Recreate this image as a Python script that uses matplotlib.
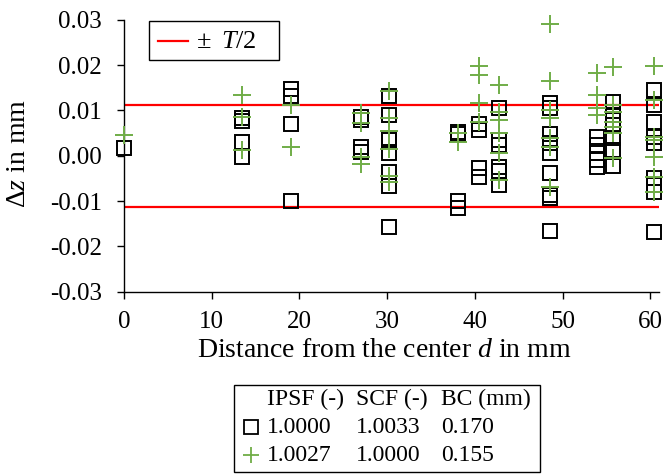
import numpy as np
import matplotlib
matplotlib.use("Agg")
import matplotlib.pyplot as plt
from matplotlib.lines import Line2D
from matplotlib.patches import Rectangle

plt.rcParams['font.family'] = ['Liberation Serif', 'DejaVu Serif']
plt.rcParams['mathtext.fontset'] = 'custom'
plt.rcParams['mathtext.rm'] = 'Liberation Serif'
plt.rcParams['mathtext.it'] = 'Liberation Serif:italic'
plt.rcParams['axes.unicode_minus'] = False

# ---- data (distance d in mm, deviation dz in mm) ----
half_tol = 0.0112   # T/2

sq_d = [0.0,
        13.4, 13.4, 13.4, 13.4,
        19.0, 19.0, 19.0, 19.0,
        27.0, 27.0, 27.0, 27.0,
        30.2, 30.2, 30.2, 30.2, 30.2, 30.2, 30.2, 30.2,
        38.1, 38.1, 38.1, 38.1,
        40.5, 40.5, 40.5, 40.5,
        42.7, 42.7, 42.7, 42.7, 42.7, 42.7,
        48.6, 48.6, 48.6, 48.6, 48.6, 48.6, 48.6, 48.6, 48.6,
        53.9, 53.9, 53.9, 53.9, 53.9,
        55.7, 55.7, 55.7, 55.7, 55.7, 55.7, 55.7,
        60.4, 60.4, 60.4, 60.4, 60.4, 60.4, 60.4, 60.4, 60.4]
sq_dz = [0.0018,
         0.0083, 0.0076, 0.0031, -0.0002,
         0.0147, 0.0132, 0.0069, -0.0099,
         0.0086, 0.0079, 0.0020, 0.0008,
         0.0131, 0.0090, 0.0039, 0.0034, 0.0006, -0.0036, -0.0067, -0.0157,
         0.0053, 0.0048, -0.0099, -0.0115,
         0.0070, 0.0057, -0.0028, -0.0046,
         0.0106, 0.0035, 0.0024, -0.0024, -0.0033, -0.0064,
         0.0116, 0.0105, 0.0048, 0.0029, 0.0007, -0.0039, -0.0087, -0.0094, -0.0165,
         0.0041, 0.0024, 0.0007, -0.0009, -0.0024,
         0.0119, 0.0090, 0.0079, 0.0068, 0.0039, 0.0013, -0.0023,
         0.0145, 0.0112, 0.0075, 0.0041, 0.0029, -0.0050, -0.0064, -0.0081, -0.0168]

pl_d = [0.0,
        13.4, 13.4, 13.4,
        19.0, 19.0,
        27.0, 27.0, 27.0, 27.0,
        30.2, 30.2, 30.2, 30.2, 30.2, 30.2,
        38.1, 38.1,
        40.5, 40.5, 40.5, 40.5,
        42.7, 42.7, 42.7, 42.7, 42.7, 42.7,
        48.6, 48.6, 48.6, 48.6, 48.6, 48.6, 48.6,
        53.9, 53.9, 53.9, 53.9,
        55.7, 55.7, 55.7, 55.7, 55.7, 55.7, 55.7,
        60.4, 60.4, 60.4, 60.4, 60.4, 60.4, 60.4]
pl_dz = [0.0046,
         0.0134, 0.0086, 0.0013,
         0.0112, 0.0019,
         0.0095, 0.0072, -0.0003, -0.0019,
         0.0142, 0.0083, 0.0055, 0.0014, -0.0045, -0.0059,
         0.0051, 0.0031,
         0.0197, 0.0178, 0.0116, 0.0075,
         0.0156, 0.0097, 0.0079, 0.0050, 0.0006, -0.0053,
         0.0291, 0.0166, 0.0101, 0.0083, 0.0039, 0.0020, -0.0068,
         0.0182, 0.0134, 0.0105, 0.0090,
         0.0195, 0.0112, 0.0097, 0.0075, 0.0064, 0.0050, -0.0006,
         0.0198, 0.0123, 0.0042, 0.0035, -0.0002, -0.0046, -0.0081]

legend_header = ["IPSF (-)", "SCF (-)", "BC (mm)"]
legend_rows = [["1.0000", "1.0033", "0.170"],
               ["1.0027", "1.0000", "0.155"]]

x_ticks = [0, 10, 20, 30, 40, 50, 60]
y_ticks = [-0.03, -0.02, -0.01, 0.00, 0.01, 0.02, 0.03]

green = '#70AD47'
W, H = 667, 475
fs = 17


def fx(px):
    return px / W


def fy(py):
    return 1 - py / H


fig = plt.figure(figsize=(W / 100, H / 100), dpi=100)
ax = fig.add_axes([fx(124), fy(291.7), (659 - 124) / W, (291.7 - 19.8) / H])

ax.axhline(half_tol, color='red', lw=1.6, zorder=1)
ax.axhline(-half_tol, color='red', lw=1.6, zorder=1)
ax.plot(sq_d, sq_dz, ls='none', marker='s', ms=10.5, mfc='none', mec='black', mew=1.4,
        zorder=2, clip_on=False)
ax.plot(pl_d, pl_dz, ls='none', marker='+', ms=13, mec=green, mew=1.4, zorder=3, clip_on=False)

ax.set_xlim(0, 61)
ax.set_ylim(-0.03, 0.03)
ax.set_xticks(x_ticks)
ax.set_yticks(y_ticks)
ax.yaxis.set_major_formatter(matplotlib.ticker.FormatStrFormatter('%.2f'))
for s in ['top', 'right']:
    ax.spines[s].set_visible(False)
for s in ['left', 'bottom']:
    ax.spines[s].set_linewidth(1.0)
ax.tick_params(axis='both', direction='out', length=5, width=1.0, labelsize=18)
ax.tick_params(axis='y', pad=11)
ax.tick_params(axis='x', pad=9)

# +/- T/2 legend
fig.add_artist(Rectangle((fx(149.3), fy(60)), 130 / W, 39.3 / H,
                         transform=fig.transFigure, fill=False, ec='black', lw=1.0))
fig.add_artist(Line2D([fx(158), fx(188)], [fy(40.7), fy(40.7)], transform=fig.transFigure,
                      color='red', lw=1.6))
fig.text(fx(197), fy(47.5), '±', fontsize=19, ha='left', va='baseline')
fig.text(fx(221), fy(47.5), '$T$/2', fontsize=19, ha='left', va='baseline')

fig.text(fx(197), fy(357), 'Distance from the center $d$ in mm', fontsize=20,
         ha='left', va='baseline')
fig.text(fx(19), fy(154), 'Δ$z$ in mm', fontsize=20, rotation=90,
         ha='center', va='center')

# table legend below the plot
fig.add_artist(Rectangle((fx(234), fy(472)), (540 - 234) / W, (472 - 385) / H,
                         transform=fig.transFigure, fill=False, ec='black', lw=1.0))
col_x = [267, 356, 441]
row_y = [405, 433, 461]
for cx, txt in zip(col_x, legend_header):
    fig.text(fx(cx), fy(row_y[0]), txt, fontsize=fs, ha='left', va='baseline')
for r, row in enumerate(legend_rows):
    for cx, txt in zip(col_x, row):
        fig.text(fx(cx), fy(row_y[r + 1]), txt, fontsize=fs, ha='left', va='baseline')
fig.add_artist(Line2D([fx(251)], [fy(427)], transform=fig.transFigure, marker='s',
                      ms=10, mfc='none', mec='black', mew=1.3, ls='none'))
fig.add_artist(Line2D([fx(251)], [fy(455)], transform=fig.transFigure, marker='+',
                      ms=12, mec=green, mew=1.3, ls='none'))

fig.savefig('out.png', dpi=100)
